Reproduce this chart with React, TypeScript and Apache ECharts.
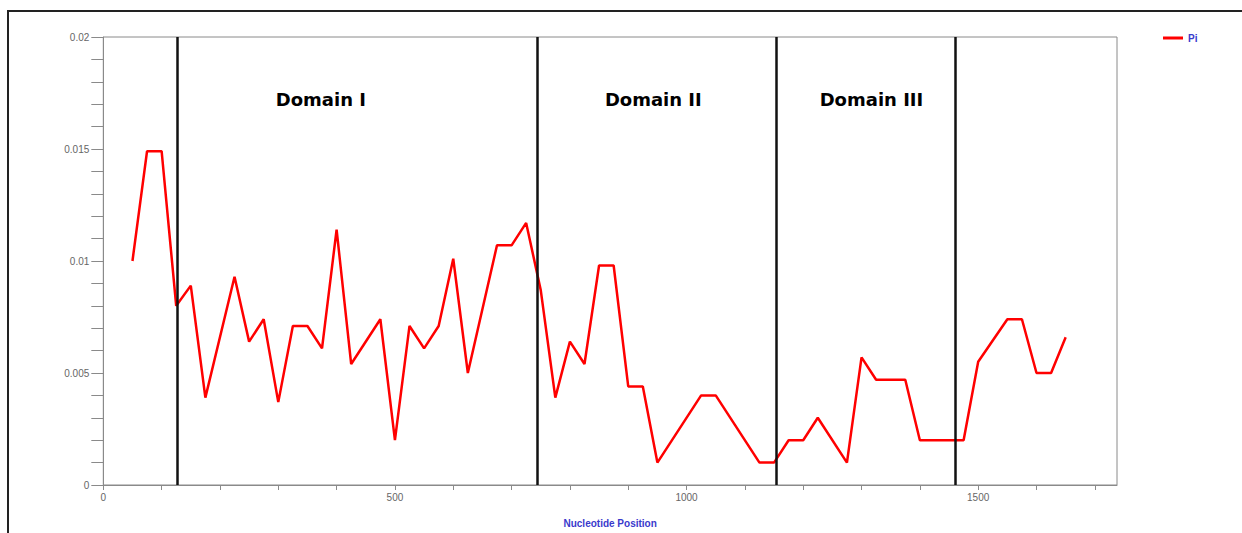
import React, { useEffect, useRef } from "react";
import * as echarts from "echarts";

const positions = [
  50, 75, 100, 125, 150, 175, 225, 250, 275, 300, 325, 350, 375, 400, 425, 475,
  500, 525, 550, 575, 600, 625, 675, 700, 725, 750, 775, 800, 825, 850, 875, 900,
  925, 950, 1025, 1050, 1125, 1150, 1175, 1200, 1225, 1275, 1300, 1325, 1375,
  1400, 1475, 1500, 1550, 1575, 1600, 1625, 1650,
];
const piValues = [
  0.01, 0.0149, 0.0149, 0.008, 0.0089, 0.0039, 0.0093, 0.0064, 0.0074, 0.0037,
  0.0071, 0.0071, 0.0061, 0.0114, 0.0054, 0.0074, 0.002, 0.0071, 0.0061, 0.0071,
  0.0101, 0.005, 0.0107, 0.0107, 0.0117, 0.0087, 0.0039, 0.0064, 0.0054, 0.0098,
  0.0098, 0.0044, 0.0044, 0.001, 0.004, 0.004, 0.001, 0.001, 0.002, 0.002, 0.003,
  0.001, 0.0057, 0.0047, 0.0047, 0.002, 0.002, 0.0055, 0.0074, 0.0074, 0.005,
  0.005, 0.0066,
];
const boundaries = [127, 744, 1154, 1460];
const domainNames = ["Domain I", "Domain II", "Domain III"];
const domainCenters = [373, 943, 1317];
const domainLabelY = 0.0172;
const xLabels = [0, 500, 1000, 1500];

export default function App() {
  const ref = useRef<HTMLDivElement>(null);
  useEffect(() => {
    document.body.style.margin = "0";
    if (!ref.current) return;
    const chart = echarts.init(ref.current, null, { renderer: "svg" });
    const font = "'Liberation Sans', Arial, sans-serif";
    chart.setOption({
      animation: false,
      backgroundColor: "#ffffff",
      grid: {
        left: 103.3,
        right: 125,
        top: 37,
        bottom: 48,
        show: true,
        borderColor: "#8a8a8a",
        borderWidth: 1,
        backgroundColor: "transparent",
      },
      graphic: [
        {
          type: "polyline",
          shape: { points: [[8, 700], [8, 11], [1400, 11]] },
          style: { stroke: "#222222", lineWidth: 2, fill: "none" },
          silent: true,
        },
      ],
      legend: {
        data: [{ name: "Pi", icon: "rect" }],
        left: 1158,
        top: 28,
        itemWidth: 20,
        itemHeight: 3,
        itemStyle: { color: "#ff0000" },
        textStyle: { color: "#3a3acc", fontWeight: "bold", fontSize: 10, fontFamily: font },
      },
      xAxis: {
        type: "value",
        min: 0,
        max: 1738,
        interval: 100,
        name: "Nucleotide Position",
        nameLocation: "middle",
        nameGap: 33,
        nameTextStyle: { color: "#3a3acc", fontWeight: "bold", fontSize: 10, fontFamily: font },
        axisLine: { show: true, lineStyle: { color: "#8a8a8a", width: 1 } },
        axisTick: { show: true, length: 5, lineStyle: { color: "#8a8a8a" } },
        splitLine: { show: false },
        axisLabel: {
          color: "#666666",
          fontSize: 10,
          fontFamily: font,
          margin: 7,
          showMaxLabel: false,
          formatter: (v: number) => (xLabels.includes(Math.round(v)) ? String(Math.round(v)) : ""),
        },
      },
      yAxis: {
        type: "value",
        min: 0,
        max: 0.02,
        interval: 0.001,
        axisLine: { show: true, lineStyle: { color: "#8a8a8a", width: 1 } },
        axisTick: { show: true, length: 12, lineStyle: { color: "#8a8a8a" } },
        splitLine: { show: false },
        axisLabel: {
          color: "#666666",
          fontSize: 10,
          fontFamily: font,
          margin: 14,
          formatter: (v: number) => {
            const k = Math.round(v * 1000);
            return k % 5 === 0 ? String(k / 1000) : "";
          },
        },
      },
      series: [
        {
          name: "Pi",
          type: "line",
          symbol: "none",
          data: positions.map((p, i) => [p, piValues[i]]),
          lineStyle: { color: "#ff0000", width: 2.5 },
          itemStyle: { color: "#ff0000" },
          z: 3,
          markLine: {
            silent: true,
            symbol: ["none", "none"],
            label: { show: false },
            lineStyle: { color: "#111111", width: 2.5, type: "solid" },
            data: boundaries.map((b) => ({ xAxis: b })),
          },
          markPoint: {
            silent: true,
            symbol: "rect",
            symbolSize: [1, 1],
            itemStyle: { color: "rgba(0,0,0,0)" },
            label: {
              show: true,
              position: "inside",
              color: "#000000",
              fontWeight: "bold",
              fontSize: 18,
              fontFamily: "'DejaVu Sans', Verdana, sans-serif",
            },
            data: domainNames.map((n, i) => ({
              coord: [domainCenters[i], domainLabelY],
              value: n,
              label: { formatter: n },
            })),
          },
        },
      ],
    });
    return () => chart.dispose();
  }, []);
  return <div ref={ref} style={{ width: 1242, height: 533 }} />;
}
